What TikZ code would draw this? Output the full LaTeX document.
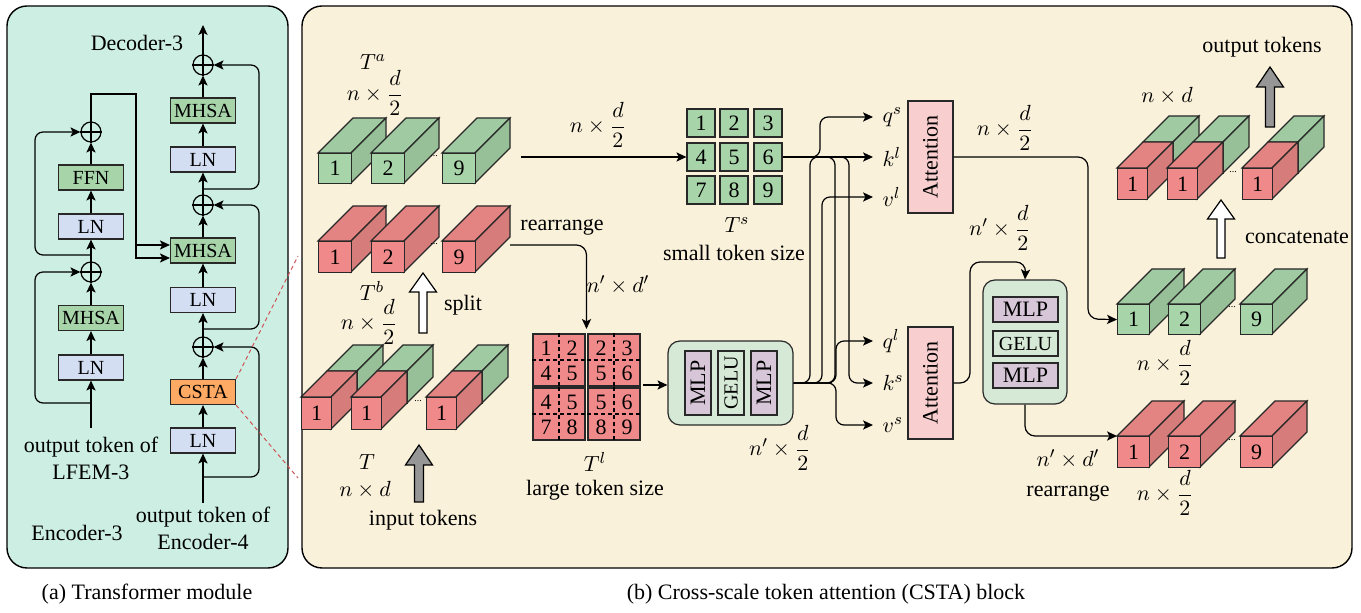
\documentclass[tikz,border=0pt]{standalone}
\usepackage{fontspec}
\setmainfont{Liberation Serif}
\usepackage{amsmath}
\usetikzlibrary{arrows.meta,calc}

\definecolor{panelA}{RGB}{205,238,227}
\definecolor{panelB}{RGB}{250,241,218}
\definecolor{lnc}{RGB}{212,222,243}
\definecolor{grc}{RGB}{168,212,170}
\definecolor{cstac}{RGB}{255,170,100}
\definecolor{attc}{RGB}{248,206,206}
\definecolor{mlpbgc}{RGB}{214,233,214}
\definecolor{mlpc}{RGB}{215,198,215}
\definecolor{gF}{RGB}{168,212,170}
\definecolor{gT}{RGB}{160,203,162}
\definecolor{gS}{RGB}{152,192,152}
\definecolor{rF}{RGB}{240,138,138}
\definecolor{rT}{RGB}{227,132,130}
\definecolor{rS}{RGB}{214,124,122}
\definecolor{dashred}{RGB}{205,85,85}
\definecolor{arrgray}{RGB}{150,150,150}
\definecolor{edgec}{RGB}{40,40,40}

% #1 x, #2 y (front top-left), #3 w, #4 h, #5 depth, #6 colour prefix, #7 label, #8 name
\newcommand{\tokcube}[8]{%
  \draw[edgec,fill=#6T] (#1,#2) -- ++(#5,-#5) -- ++(#3,0) -- ++(-#5,#5) -- cycle;
  \draw[edgec,fill=#6S] (#1+#3,#2) -- ++(#5,-#5) -- ++(0,#4) -- ++(-#5,#5) -- cycle;
  \node[draw=edgec,fill=#6F,minimum width=#3*0.5pt,minimum height=#4*0.5pt,inner sep=0pt,anchor=north west] (#8) at (#1,#2) {#7};
}
% concatenated cube: x y w h halfdepth label name
\newcommand{\catcube}[7]{%
  \tokcube{#1+#5}{#2-#5}{#3}{#4}{#5}{g}{}{#7b}
  \tokcube{#1}{#2}{#3}{#4}{#5}{r}{#6}{#7}
}

\begin{document}
\begin{tikzpicture}[x=0.5pt,y=-0.5pt,
  font=\fontsize{11}{13.5}\selectfont,
  line width=0.6pt,
  arr/.style={-{Stealth[length=5pt,width=4.6pt,inset=1.2pt]}},
  box/.style={draw=edgec, inner sep=0pt, minimum width=32.5pt, minimum height=12.5pt, font=\fontsize{10}{12}\selectfont},
  lnbox/.style={box, fill=lnc},
  grbox/.style={box, fill=grc},
  plusc/.style={draw, circle, minimum size=10pt, inner sep=0pt},
  dotsn/.style={font=\fontsize{5}{5}\selectfont, inner sep=0pt},
  tscell/.style={draw=edgec, fill=gF, minimum size=14pt, inner sep=0pt},
  tlcell/.style={draw=edgec, fill=rF, minimum size=26pt, inner sep=0pt},
  attbox/.style={draw=edgec, fill=attc, minimum width=22.5pt, minimum height=56pt, inner sep=0pt},
  vbar/.style={draw=edgec, minimum width=13pt, minimum height=32pt, inner sep=0pt},
  hbar/.style={draw=edgec, minimum width=32.5pt, minimum height=12.5pt, inner sep=0pt},
  qkv/.style={anchor=west, inner xsep=4.5pt, inner ysep=1pt},
  hollow/.style={draw, fill=white},
  grayarr/.style={draw, fill=arrgray},
  redline/.style={dashred, line width=0.5pt, dash pattern=on 2pt off 1.6pt}
]
\useasboundingbox (0,0) rectangle (1361,613);

% ---------- panels ----------
\draw[fill=panelA, rounded corners=10pt, line width=0.7pt] (7,6) rectangle (288,568);
\draw[fill=panelB, rounded corners=10pt, line width=0.7pt] (302,6) rectangle (1352,568);
\node (capA) at (147,594) {(a) Transformer module};
\node (capB) at (826,594) {(b) Cross-scale token attention (CSTA) block};

% ---------- (a) decoder column ----------
\node (dec3) at (137,43) {Decoder-3};
\coordinate (dtop) at (203,25);
\node[plusc] (dplus1) at (203,65) {};
\node[grbox] (dmhsa1) at (203,110.5) {MHSA};
\node[lnbox] (dln1) at (203,159.5) {LN};
\node[plusc] (dplus2) at (203,205) {};
\node[grbox] (dmhsa2) at (203,250.5) {MHSA};
\node[lnbox] (dln2) at (203,300) {LN};
\node[plusc] (dplus3) at (203,347) {};
\node[box, fill=cstac] (csta) at (203,392) {CSTA};
\node[lnbox] (dln3) at (203,440.5) {LN};
\coordinate (din) at (203,503);
\node[align=center] (dintext) at (203,528) {output token of\\Encoder-4};

% ---------- (a) encoder column ----------
\node[plusc] (eplus1) at (91,132) {};
\node[grbox] (effn) at (91,177.5) {FFN};
\node[lnbox] (eln1) at (91,226.5) {LN};
\node[plusc] (eplus2) at (91,272) {};
\node[grbox] (emhsa) at (91,318) {MHSA};
\node[lnbox] (eln2) at (91,367.5) {LN};
\coordinate (ein) at (91,428);
\node[align=center] (eintext) at (91,458) {output token of\\LFEM-3};
\node (enc3) at (77,533) {Encoder-3};

\foreach \n in {dplus1,dplus2,dplus3,eplus1,eplus2}
  \draw (\n.north) -- (\n.south) (\n.east) -- (\n.west);

% main arrows
\draw[arr] (din) -- (dln3);
\draw[arr] (dln3) -- (csta);
\draw[arr] (csta) -- (dplus3);
\draw[arr] (dplus3) -- (dln2);
\draw[arr] (dln2) -- (dmhsa2);
\draw[arr] (dmhsa2) -- (dplus2);
\draw[arr] (dplus2) -- (dln1);
\draw[arr] (dln1) -- (dmhsa1);
\draw[arr] (dmhsa1) -- (dplus1);
\draw[arr] (dplus1) -- (dtop);
\draw[arr] (ein) -- (eln2);
\draw[arr] (eln2) -- (emhsa);
\draw[arr] (emhsa) -- (eplus2);
\draw[arr] (eplus2) -- (eln1);
\draw[arr] (eln1) -- (effn);
\draw[arr] (effn) -- (eplus1);

% skip connections
\draw[arr, rounded corners=4pt] (203,477) -| (259,347) -- (dplus3.east);
\draw[arr, rounded corners=4pt] (203,329) -| (259,205) -- (dplus2.east);
\draw[arr, rounded corners=4pt] (203,189) -| (259,65) -- (dplus1.east);
\draw[arr, rounded corners=4pt] (91,403) -| (35,272) -- (eplus2.west);
\draw[arr, rounded corners=4pt] (91,255) -| (35,132) -- (eplus1.west);
\draw[arr] (eplus1.north) -- (91,94) -- (136,94) -- (136,258) -- ([yshift=-3.75pt]dmhsa2.west);
\draw[arr] (136,245) -- ([yshift=2.75pt]dmhsa2.west);

% zoom lines
\draw[redline] (csta.north east) -- (298,256);
\draw[redline] (csta.south east) -- (298,478);

% ---------- (b) token rows ----------
\tokcube{318}{153}{33}{30}{35}{g}{1}{ta1}
\tokcube{371}{153}{33}{30}{35}{g}{2}{ta2}
\tokcube{442}{153}{33}{30}{35}{g}{9}{ta9}
\node[dotsn] (tadots) at (434,156) {...};
\node (lTa) at (373,62) {$T^a$};
\node (lTad) at (375,93) {$n\times\dfrac{d}{2}$};

\tokcube{318}{241}{33}{31}{35}{r}{1}{tb1}
\tokcube{371}{241}{33}{31}{35}{r}{2}{tb2}
\tokcube{442}{241}{33}{31}{35}{r}{9}{tb9}
\node[dotsn] (tbdots) at (434,244) {...};
\node (lTb) at (372,291) {$T^b$};
\node (lTbd) at (369,322) {$n\times\dfrac{d}{2}$};

\catcube{301}{397}{30}{32}{26}{1}{t1}
\catcube{351}{397}{30}{32}{26}{1}{t2}
\catcube{426}{397}{30}{32}{26}{1}{t9}
\node[dotsn] (tdots) at (418,401) {...};
\node (lT) at (367,462) {$T$};
\node (lTd) at (365,490) {$n\times d$};
\node (lin) at (423,520) {input tokens};

% split arrow (hollow)
\draw[hollow] (419,333) -- (419,292) -- (409.5,292) -- (423,273) -- (436.5,292) -- (427,292) -- (427,333) -- cycle;
\node (lsplit) at (463,305) {split};
% input arrow (gray)
\draw[grayarr] (414.5,502) -- (414.5,465) -- (405.5,465) -- (419,445) -- (432.5,465) -- (423.5,465) -- (423.5,502) -- cycle;

% ---------- T^s ----------
\foreach \i/\x/\y in {1/701/123,2/734/123,3/768/123,4/701/157,5/734/157,6/768/157,7/701/190,8/734/190,9/768/190}
  \node[tscell] (ts\i) at (\x,\y) {\i};
\node (lTs) at (737,225) {$T^s$};
\node (lsmall) at (734,253) {small token size};
\coordinate (tastart) at (521,157);
\draw[arr] (tastart) -- (ts4.west);
\node (lnd1) at (598,125) {$n\times\dfrac{d}{2}$};

% ---------- T^l ----------
\node[tlcell] (tl1) at (559,360) {};
\node[tlcell] (tl2) at (614,360) {};
\node[tlcell] (tl3) at (559,414) {};
\node[tlcell] (tl4) at (614,414) {};
\foreach \n/\a/\b/\c/\d in {tl1/1/2/4/5, tl2/2/3/5/6, tl3/4/5/7/8, tl4/5/6/8/9} {
  \draw[dash pattern=on 2pt off 1.5pt] (\n.north) -- (\n.south) (\n.west) -- (\n.east);
  \node[inner sep=0pt] (\n-a) at ($(\n.center)+(-13,-12)$) {\a};
  \node[inner sep=0pt] (\n-b) at ($(\n.center)+(13,-12)$) {\b};
  \node[inner sep=0pt] (\n-c) at ($(\n.center)+(-13,13)$) {\c};
  \node[inner sep=0pt] (\n-d) at ($(\n.center)+(13,13)$) {\d};
}
\node (lTl) at (595,462) {$T^l$};
\node (llarge) at (595,490) {large token size};
\node (lrear1) at (562,227) {rearrange};
\coordinate (rstart) at (510,245);
\coordinate (tltop) at (586.5,329);
\draw[arr, rounded corners=5pt] (rstart) -| (tltop);
\node (lndp) at (618,285) {$n'\times d'$};

% ---------- MLP block (middle) ----------
\node[draw=edgec, fill=mlpbgc, rounded corners=6pt, minimum width=62.5pt, minimum height=42pt] (mlpA) at (730.5,383) {};
\node[vbar, fill=mlpc] (mlpA1) at (698,383) {\rotatebox{90}{MLP}};
\node[vbar, fill=mlpbgc] (mlpA2) at (731,383) {\rotatebox{90}{\fontsize{10}{12}\selectfont GELU}};
\node[vbar, fill=mlpc] (mlpA3) at (764,383) {\rotatebox{90}{MLP}};
\coordinate (tlE) at (643,385);
\draw[arr] (tlE) -- (tlE -| mlpA.west);
\node (lndp2) at (780,448) {$n'\times\dfrac{d}{2}$};

% ---------- attention ----------
\node[attbox] (attA) at (930.5,157) {\rotatebox{90}{Attention}};
\node[attbox] (attB) at (930.5,383) {\rotatebox{90}{Attention}};
\node[qkv] (lqs) at (873,117) {$q^s$};
\node[qkv] (lkl) at (873,157) {$k^l$};
\node[qkv] (lvl) at (873,197) {$v^l$};
\node[qkv] (lql) at (873,341) {$q^l$};
\node[qkv] (lks) at (873,383) {$k^s$};
\node[qkv] (lvs) at (873,425) {$v^s$};

\draw[arr] (ts6.east) -- (lkl.west);
\draw[arr, rounded corners=4pt] (800,157) -| (820,117) -- (lqs.west);
\draw[arr, rounded corners=4pt] (790,157) -| (849,383) -- (lks.west);
\draw[rounded corners=4pt] (790,157) -| (835,383) -- (800,383);
\draw[rounded corners=4pt] (mlpA.east) -| (810,157) -- (835,157);
\draw[arr, rounded corners=4pt] (mlpA.east) -| (822,197) -- (lvl.west);
\draw[arr, rounded corners=4pt] (mlpA.east) -| (836,341) -- (lql.west);
\draw[arr, rounded corners=4pt] (mlpA.east) -| (836,425) -- (lvs.west);

% ---------- right MLP block ----------
\node[draw=edgec, fill=mlpbgc, rounded corners=6pt, minimum width=42pt, minimum height=62pt] (mlpB) at (1025,342) {};
\node[hbar, fill=mlpc] (mlpB1) at (1025.5,309.5) {MLP};
\node[hbar, fill=mlpbgc] (mlpB2) at (1025.5,343.5) {\fontsize{10}{12}\selectfont GELU};
\node[hbar, fill=mlpc] (mlpB3) at (1025.5,375.5) {MLP};
\node (lndp3) at (1000,228) {$n'\times\dfrac{d}{2}$};
\node (lnd2) at (1005,128) {$n\times\dfrac{d}{2}$};

% ---------- output rows ----------
\tokcube{1117}{304}{32}{30}{35}{g}{1}{og1}
\tokcube{1168}{304}{32}{30}{35}{g}{2}{og2}
\tokcube{1240}{304}{32}{30}{35}{g}{9}{og9}
\node[dotsn] (ogdots) at (1232,307) {...};
\node (lognd) at (1165,363) {$n\times\dfrac{d}{2}$};

\tokcube{1117}{436}{32}{31}{35}{r}{1}{or1}
\tokcube{1168}{436}{32}{31}{35}{r}{2}{or2}
\tokcube{1240}{436}{32}{31}{35}{r}{9}{or9}
\node[dotsn] (ordots) at (1232,440) {...};
\node (lornd) at (1165,493) {$n\times\dfrac{d}{2}$};
\node (lorndp) at (1068,459) {$n'\times d'$};
\node (lrear2) at (1068,493) {rearrange};

\catcube{1117}{168}{30}{31}{26}{1}{oc1}
\catcube{1167}{168}{30}{31}{26}{1}{oc2}
\catcube{1242}{168}{30}{31}{26}{1}{oc9}
\node[dotsn] (ocdots) at (1233,172) {...};
\node (locnd) at (1167,96) {$n\times d$};
\node (lout) at (1262,47) {output tokens};
\draw[grayarr] (1265.5,127) -- (1265.5,87) -- (1256.5,87) -- (1270,67) -- (1283.5,87) -- (1274.5,87) -- (1274.5,127) -- cycle;
\draw[hollow] (1217,258) -- (1217,219) -- (1207.5,219) -- (1221,200) -- (1234.5,219) -- (1225,219) -- (1225,258) -- cycle;
\node (lconcat) at (1297,237) {concatenate};

% ---------- connectors (right) ----------
\draw[arr, rounded corners=5pt] (attA.east) -| (1088,319) -- (og1.west);
\draw[arr, rounded corners=5pt] (attB.east) -- (970,383) |- (1026,262) -- (mlpB.north);
\draw[arr, rounded corners=5pt] (mlpB.south) |- (or1.north west);
\end{tikzpicture}
\end{document}
